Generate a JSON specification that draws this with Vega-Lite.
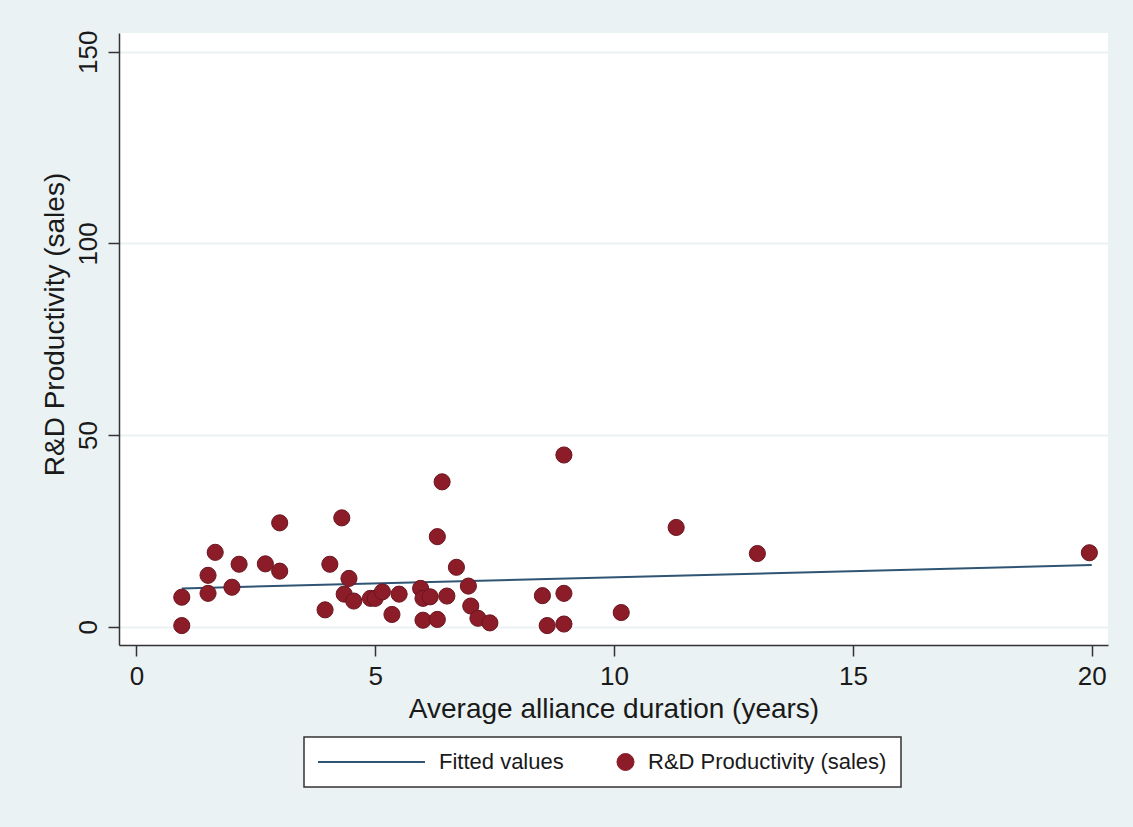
{
  "$schema": "https://vega.github.io/schema/vega-lite/v6.json",
  "autosize": "none",
  "width": 989,
  "height": 612,
  "padding": {"left": 119, "top": 33, "right": 25, "bottom": 182},
  "background": "#EAF2F3",
  "config": {
    "view": {"fill": "white", "stroke": null},
    "font": "Liberation Sans",
    "axis": {
      "domainColor": "#333333",
      "domainWidth": 1.5,
      "tickColor": "#333333",
      "tickWidth": 1.5,
      "tickSize": 11,
      "labelFontSize": 26,
      "labelColor": "#1a1a1a",
      "titleFontSize": 28,
      "titleFontWeight": "normal",
      "titleColor": "#1a1a1a",
      "labelPadding": 7,
      "labelFlush": false,
      "labelOverlap": false
    }
  },
  "datasets": {
    "fit": [
      {"duration": 0.95, "productivity": 10.0, "series": "Fitted values"},
      {"duration": 20.0, "productivity": 16.1, "series": "Fitted values"}
    ],
    "points": [
      {"duration": 6.4, "productivity": 37.8, "series": "R&D Productivity (sales)"},
      {"duration": 3.0, "productivity": 27.1, "series": "R&D Productivity (sales)"},
      {"duration": 4.3, "productivity": 28.4, "series": "R&D Productivity (sales)"},
      {"duration": 6.3, "productivity": 23.5, "series": "R&D Productivity (sales)"},
      {"duration": 1.65, "productivity": 19.4, "series": "R&D Productivity (sales)"},
      {"duration": 2.15, "productivity": 16.3, "series": "R&D Productivity (sales)"},
      {"duration": 2.7, "productivity": 16.4, "series": "R&D Productivity (sales)"},
      {"duration": 3.0, "productivity": 14.5, "series": "R&D Productivity (sales)"},
      {"duration": 4.05, "productivity": 16.3, "series": "R&D Productivity (sales)"},
      {"duration": 6.7, "productivity": 15.5, "series": "R&D Productivity (sales)"},
      {"duration": 1.5, "productivity": 13.4, "series": "R&D Productivity (sales)"},
      {"duration": 4.45, "productivity": 12.6, "series": "R&D Productivity (sales)"},
      {"duration": 2.0, "productivity": 10.3, "series": "R&D Productivity (sales)"},
      {"duration": 6.95, "productivity": 10.6, "series": "R&D Productivity (sales)"},
      {"duration": 0.95, "productivity": 7.7, "series": "R&D Productivity (sales)"},
      {"duration": 1.5, "productivity": 8.7, "series": "R&D Productivity (sales)"},
      {"duration": 4.35, "productivity": 8.5, "series": "R&D Productivity (sales)"},
      {"duration": 4.55, "productivity": 6.7, "series": "R&D Productivity (sales)"},
      {"duration": 4.9, "productivity": 7.4, "series": "R&D Productivity (sales)"},
      {"duration": 5.0, "productivity": 7.4, "series": "R&D Productivity (sales)"},
      {"duration": 5.15, "productivity": 9.1, "series": "R&D Productivity (sales)"},
      {"duration": 5.5, "productivity": 8.5, "series": "R&D Productivity (sales)"},
      {"duration": 5.95, "productivity": 10.0, "series": "R&D Productivity (sales)"},
      {"duration": 6.0, "productivity": 7.4, "series": "R&D Productivity (sales)"},
      {"duration": 6.15, "productivity": 7.8, "series": "R&D Productivity (sales)"},
      {"duration": 6.5, "productivity": 8.0, "series": "R&D Productivity (sales)"},
      {"duration": 3.95, "productivity": 4.4, "series": "R&D Productivity (sales)"},
      {"duration": 5.35, "productivity": 3.2, "series": "R&D Productivity (sales)"},
      {"duration": 6.0, "productivity": 1.7, "series": "R&D Productivity (sales)"},
      {"duration": 6.3, "productivity": 1.9, "series": "R&D Productivity (sales)"},
      {"duration": 7.0, "productivity": 5.4, "series": "R&D Productivity (sales)"},
      {"duration": 7.15, "productivity": 2.2, "series": "R&D Productivity (sales)"},
      {"duration": 7.4, "productivity": 1.0, "series": "R&D Productivity (sales)"},
      {"duration": 0.95, "productivity": 0.3, "series": "R&D Productivity (sales)"},
      {"duration": 8.95, "productivity": 44.8, "series": "R&D Productivity (sales)"},
      {"duration": 11.3, "productivity": 25.9, "series": "R&D Productivity (sales)"},
      {"duration": 13.0, "productivity": 19.1, "series": "R&D Productivity (sales)"},
      {"duration": 8.5, "productivity": 8.1, "series": "R&D Productivity (sales)"},
      {"duration": 8.95, "productivity": 8.7, "series": "R&D Productivity (sales)"},
      {"duration": 10.15, "productivity": 3.7, "series": "R&D Productivity (sales)"},
      {"duration": 8.6, "productivity": 0.3, "series": "R&D Productivity (sales)"},
      {"duration": 8.95, "productivity": 0.7, "series": "R&D Productivity (sales)"},
      {"duration": 19.95, "productivity": 19.3, "series": "R&D Productivity (sales)"}
    ]
  },
  "encoding": {
    "x": {
      "field": "duration",
      "type": "quantitative",
      "scale": {"domain": [-0.364, 20.34], "nice": false, "zero": false},
      "axis": {
        "title": "Average alliance duration (years)",
        "values": [0, 5, 10, 15, 20],
        "grid": false,
        "titleY": 50
      }
    },
    "y": {
      "field": "productivity",
      "type": "quantitative",
      "scale": {"domain": [-4.77, 154.9], "nice": false, "zero": false},
      "axis": {
        "title": "R&D Productivity (sales)",
        "values": [0, 50, 100, 150],
        "grid": true,
        "gridColor": "#EAF2F3",
        "gridWidth": 2,
        "labelAngle": -90,
        "labelAlign": "center",
        "labelBaseline": "bottom",
        "titleX": -50,
        "titleY": 291
      }
    },
    "color": {
      "field": "series",
      "type": "nominal",
      "scale": {
        "domain": ["Fitted values", "R&D Productivity (sales)"],
        "range": ["#2f5474", "#8c1d28"]
      },
      "legend": {
        "title": null,
        "orient": "none",
        "legendX": 185,
        "legendY": 704,
        "direction": "horizontal",
        "columns": 2,
        "columnPadding": 50,
        "padding": 14,
        "fillColor": "white",
        "strokeColor": "#333333",
        "labelFontSize": 22,
        "labelColor": "#1a1a1a",
        "labelOffset": 13,
        "labelLimit": 500,
        "symbolSize": 324,
        "symbolType": "circle",
        "encode": {
          "legend": {"update": {"strokeWidth": {"value": 1.5}}},
          "symbols": {
            "update": {
              "shape": {"signal": "datum.value === 'Fitted values' ? 'stroke' : 'circle'"},
              "size": {"signal": "datum.value === 'Fitted values' ? 11449 : 290"},
              "x": {"signal": "datum.value === 'Fitted values' ? 53.5 : 9.5"},
              "strokeWidth": {"signal": "datum.value === 'Fitted values' ? 2 : 1"},
              "stroke": {"signal": "datum.value === 'Fitted values' ? '#2f5474' : '#6a1520'"},
              "fill": {"signal": "datum.value === 'Fitted values' ? 'transparent' : '#8c1d28'"},
              "opacity": {"value": 1}
            }
          },
          "labels": {
            "update": {
              "x": {"signal": "datum.value === 'Fitted values' ? 121 : 32"}
            }
          }
        }
      }
    }
  },
  "layer": [
    {
      "data": {"name": "fit"},
      "mark": {"type": "line", "strokeWidth": 2}
    },
    {
      "data": {"name": "points"},
      "mark": {"type": "point", "filled": true, "shape": "circle", "size": 260, "opacity": 1, "stroke": "#6a1520", "strokeWidth": 1}
    }
  ]
}
